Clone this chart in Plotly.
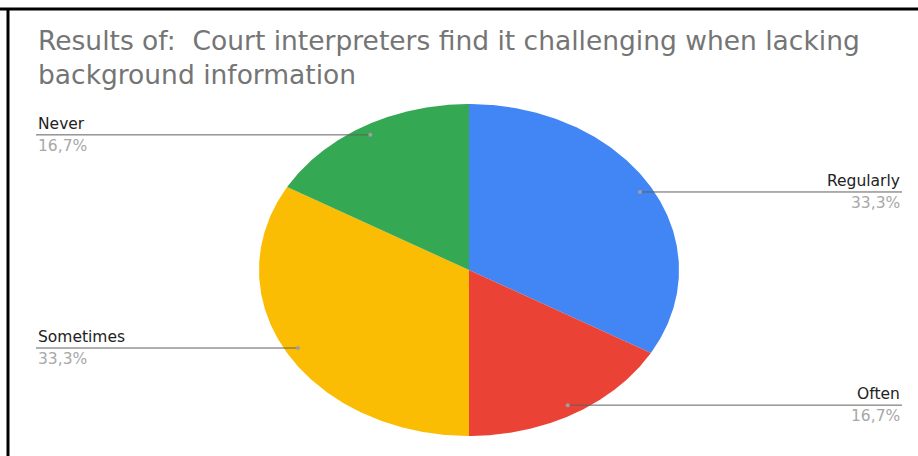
import numpy as np
import plotly.graph_objects as go

# Survey answers, in the clockwise order they are drawn from 12 o'clock
categories = ["Regularly", "Often", "Sometimes", "Never"]
counts = [2, 1, 2, 1]
colors = ["#4285F4", "#EA4335", "#FBBC04", "#34A853"]
pct_labels = ["33,3%", "16,7%", "33,3%", "16,7%"]

title_text = "Results of:  Court interpreters find it challenging when lacking<br>background information"

W, H = 918, 456
CX, CY = 469, 270        # pie centre (pixel-like axis units)
RX, RY = 210, 166        # horizontal / vertical radii of the pie
DOT_R = 0.94             # leader-line anchor, as a fraction of the radius
LEFT_X, RIGHT_X = 36, 902
FONT = "DejaVu Sans, Arial, sans-serif"

fig = go.Figure()

total = float(sum(counts))
start = 0.0
for cat, val, col, pct in zip(categories, counts, colors, pct_labels):
    span = 2 * np.pi * val / total
    th = np.linspace(start, start + span, 200)
    xs = np.concatenate([[CX], CX + RX * np.sin(th), [CX]])
    ys = np.concatenate([[CY], CY - RY * np.cos(th), [CY]])
    fig.add_trace(go.Scatter(
        x=xs, y=ys, mode="lines", fill="toself", fillcolor=col,
        line=dict(width=0, color=col), hoverinfo="skip", showlegend=False,
    ))

    mid = start + span / 2
    dx = CX + DOT_R * RX * np.sin(mid)
    dy = CY - DOT_R * RY * np.cos(mid)
    right = np.sin(mid) > 0
    edge = RIGHT_X if right else LEFT_X

    # leader line and its anchor dot
    fig.add_trace(go.Scatter(
        x=[dx, edge], y=[dy, dy], mode="lines",
        line=dict(color="#5f5f5f", width=1), hoverinfo="skip", showlegend=False,
    ))
    fig.add_trace(go.Scatter(
        x=[dx], y=[dy], mode="markers",
        marker=dict(size=4, color="#a0a0a0"), hoverinfo="skip", showlegend=False,
    ))

    anchor = "right" if right else "left"
    fig.add_annotation(
        x=edge, y=dy, text=cat, showarrow=False, xanchor=anchor, yanchor="bottom",
        yshift=0, font=dict(family=FONT, size=15.5, color="#222222"),
    )
    fig.add_annotation(
        x=edge, y=dy, text=pct, showarrow=False, xanchor=anchor, yanchor="top",
        yshift=0, font=dict(family=FONT, size=15.5, color="#a8a8a8"),
    )
    start += span

# chart title
fig.add_annotation(
    x=36, y=23, xref="x", yref="y", text=title_text, showarrow=False,
    xanchor="left", yanchor="top", align="left",
    font=dict(family=FONT, size=26.5, color="#757575"),
)

# frame lines along the top and left edges
fig.add_shape(type="line", xref="x", yref="y", x0=0, x1=W, y0=9, y1=9,
              line=dict(color="#000000", width=3))
fig.add_shape(type="line", xref="x", yref="y", x0=8, x1=8, y0=8, y1=H,
              line=dict(color="#000000", width=3))

fig.update_layout(
    width=W, height=H,
    margin=dict(l=0, r=0, t=0, b=0),
    paper_bgcolor="white", plot_bgcolor="white",
    xaxis=dict(range=[0, W], visible=False, fixedrange=True),
    yaxis=dict(range=[H, 0], visible=False, fixedrange=True),
    showlegend=False,
)

fig.write_html("out.html")
